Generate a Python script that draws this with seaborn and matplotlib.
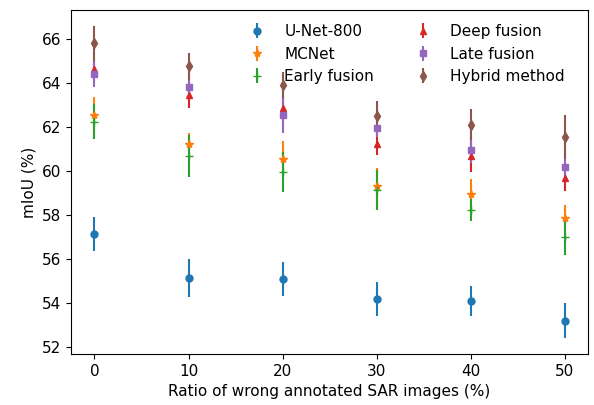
import seaborn as sns
import matplotlib.pyplot as plt

# ratio of wrong annotated SAR images (%)
ratios = [0, 10, 20, 30, 40, 50]

methods = ['U-Net-800', 'MCNet', 'Early fusion', 'Deep fusion', 'Late fusion', 'Hybrid method']
markers = ['o', '*', '+', '^', 's', 'd']
msizes = [5, 6, 6, 5, 5, 5]

unet_mean = [57.15, 55.15, 55.1, 54.2, 54.1, 53.2]
unet_err = [0.77, 0.85, 0.77, 0.78, 0.7, 0.8]
mcnet_mean = [62.55, 61.25, 60.55, 59.3, 58.95, 57.85]
mcnet_err = [0.8, 0.5, 0.8, 0.85, 0.7, 0.6]
early_mean = [62.25, 60.7, 59.95, 59.15, 58.25, 57.0]
early_err = [0.8, 0.95, 0.9, 0.9, 0.5, 0.8]
deep_mean = [64.65, 63.45, 62.85, 61.25, 60.7, 59.7]
deep_err = [0.4, 0.6, 0.5, 0.5, 0.75, 0.6]
late_mean = [64.4, 63.8, 62.55, 61.95, 60.95, 60.2]
late_err = [0.6, 0.5, 0.8, 0.4, 0.6, 0.5]
hybrid_mean = [65.8, 64.75, 63.9, 62.5, 62.1, 61.55]
hybrid_err = [0.8, 0.6, 0.6, 0.7, 0.7, 1.0]

means = [unet_mean, mcnet_mean, early_mean, deep_mean, late_mean, hybrid_mean]
errs = [unet_err, mcnet_err, early_err, deep_err, late_err, hybrid_err]

colors = sns.color_palette('tab10', len(methods))
plt.rcParams['font.size'] = 11

fig = plt.figure(figsize=(5.94, 4.05), dpi=100)
ax = fig.add_axes([0.1195, 0.126, 0.8705, 0.849])

for name, m, mk, ms, c, e in zip(methods, means, markers, msizes, colors, errs):
    ax.errorbar(ratios, m, yerr=e, fmt=mk, color=c, ms=ms, label=name)

ax.set_xlabel('Ratio of wrong annotated SAR images (%)')
ax.set_ylabel('mIoU (%)')
ax.set_xticks(ratios)
ax.set_yticks([52, 54, 56, 58, 60, 62, 64, 66])
ax.legend(ncol=2, frameon=False, loc='upper right', columnspacing=2.2,
          handletextpad=0.8, bbox_to_anchor=(0.982, 1.0))

plt.savefig('out.png', dpi=100)
